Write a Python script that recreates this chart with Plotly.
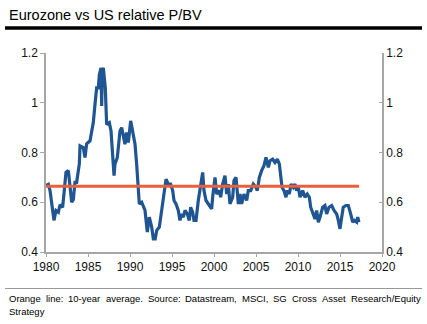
import plotly.graph_objects as go

# Eurozone vs US relative P/BV
years = [
    1980.0, 1980.28, 1980.48, 1980.67, 1980.95, 1981.19, 1981.47, 1981.67, 1981.98, 1982.14,
    1982.38, 1982.66, 1982.86, 1983.06, 1983.25, 1983.45, 1983.65, 1983.97, 1984.05, 1984.44,
    1984.64, 1984.84, 1985.24, 1985.44, 1985.63, 1985.83, 1986.03, 1986.23, 1986.35, 1986.55,
    1986.63, 1986.7, 1986.83, 1986.94, 1987.06, 1987.22, 1987.54, 1987.74, 1987.94, 1988.1,
    1988.21, 1988.49, 1988.81, 1989.01, 1989.21, 1989.4, 1989.6, 1989.8, 1990.08, 1990.32,
    1990.6, 1990.79, 1990.99, 1991.11, 1991.39, 1991.79, 1992.06, 1992.3, 1992.58, 1992.78,
    1993.0, 1993.18, 1993.49, 1993.77, 1994.05, 1994.29, 1994.56, 1994.84, 1995.08, 1995.24,
    1995.48, 1995.75, 1995.95, 1996.15, 1996.35, 1996.55, 1996.82, 1997.06, 1997.22, 1997.46,
    1997.62, 1997.86, 1998.13, 1998.41, 1998.65, 1998.81, 1999.05, 1999.33, 1999.72, 1999.84,
    2000.12, 2000.32, 2000.63, 2000.79, 2001.03, 2001.31, 2001.51, 2001.71, 2001.9, 2002.22,
    2002.38, 2002.62, 2002.78, 2002.9, 2003.1, 2003.29, 2003.57, 2003.89, 2004.08, 2004.37,
    2004.68, 2005.0, 2005.16, 2005.4, 2005.67, 2005.95, 2006.19, 2006.47, 2006.67, 2006.98,
    2007.26, 2007.54, 2007.78, 2007.94, 2008.1, 2008.33, 2008.57, 2008.73, 2008.97, 2009.17,
    2009.44, 2009.64, 2009.84, 2010.04, 2010.24, 2010.56, 2010.83, 2011.11, 2011.35, 2011.51,
    2011.75, 2012.02, 2012.22, 2012.42, 2012.62, 2012.94, 2013.21, 2013.41, 2013.69, 2014.01,
    2014.29, 2014.6, 2014.8, 2015.0, 2015.2, 2015.39, 2015.71, 2015.99, 2016.27, 2016.51,
    2016.71, 2016.99, 2017.11, 2017.26,
]
rel_pbv = [
    0.667, 0.672, 0.647, 0.600, 0.527, 0.567, 0.560, 0.590, 0.580, 0.635,
    0.720, 0.727, 0.660, 0.600, 0.610, 0.680, 0.680, 0.755, 0.827, 0.820,
    0.780, 0.835, 0.847, 0.887, 0.920, 0.993, 1.060, 1.060, 1.113, 1.140,
    0.987, 1.130, 1.140, 1.100, 1.060, 0.913, 0.920, 0.887, 0.807, 0.707,
    0.753, 0.780, 0.887, 0.900, 0.867, 0.833, 0.880, 0.840, 0.927, 0.887,
    0.833, 0.753, 0.660, 0.593, 0.600, 0.567, 0.480, 0.540, 0.500, 0.453,
    0.453, 0.487, 0.500, 0.567, 0.647, 0.693, 0.673, 0.673, 0.647, 0.607,
    0.593, 0.567, 0.527, 0.553, 0.540, 0.567, 0.553, 0.527, 0.580, 0.560,
    0.527, 0.527, 0.607, 0.660, 0.720, 0.647, 0.607, 0.593, 0.573, 0.620,
    0.700, 0.633, 0.647, 0.620, 0.673, 0.707, 0.633, 0.673, 0.593, 0.620,
    0.687, 0.700, 0.633, 0.593, 0.633, 0.593, 0.633, 0.607, 0.647, 0.647,
    0.673, 0.660, 0.647, 0.700, 0.727, 0.747, 0.780, 0.740, 0.767, 0.773,
    0.760, 0.773, 0.753, 0.687, 0.660, 0.647, 0.620, 0.647, 0.633, 0.673,
    0.660, 0.673, 0.647, 0.660, 0.620, 0.647, 0.620, 0.633, 0.620, 0.580,
    0.553, 0.533, 0.567, 0.520, 0.540, 0.580, 0.587, 0.553, 0.580, 0.587,
    0.567, 0.553, 0.527, 0.493, 0.540, 0.580, 0.587, 0.587, 0.553, 0.520,
    0.527, 0.520, 0.540, 0.520,
]
avg_years = [1980.0, 2017.26]
avg_values = [0.664, 0.664]

x_ticks = [1980, 1985, 1990, 1995, 2000, 2005, 2010, 2015, 2020]
y_ticks = [0.4, 0.6, 0.8, 1.0, 1.2]
y_tick_labels = ["0.4", "0.6", "0.8", "1", "1.2"]

title = "Eurozone vs US relative P/BV"
footnote_words = ["Orange", "line:", "10-year", "average.", "Source:", "Datastream,",
                  "MSCI,", "SG", "Cross", "Asset", "Research/Equity"]
footnote_word_px = [8, 44.8, 67.2, 104.5, 146.6, 184.3, 241, 272.3, 291, 321, 349.7]
footnote_line2 = "Strategy"

W, H = 427, 324
ML, MR, MT, MB = 46, 45, 53, 72
PW, PH = W - ML - MR, H - MT - MB


def px_x(px):
    return (px - ML) / PW


def px_y(py):
    return (H - MB - py) / PH


FONT = "Liberation Sans, Arial, sans-serif"
AXIS_GREY = "#a6a6a6"

fig = go.Figure()
fig.add_trace(go.Scatter(x=years, y=rel_pbv, mode="lines",
                         line=dict(color="#1f5592", width=3.2), showlegend=False))
fig.add_trace(go.Scatter(x=avg_years, y=avg_values, mode="lines", yaxis="y2",
                         line=dict(color="#e8603c", width=3), showlegend=False))

axis_font = dict(family=FONT, size=12, color="#111111")
fig.update_layout(
    width=W, height=H,
    margin=dict(l=ML, r=MR, t=MT, b=MB),
    paper_bgcolor="white", plot_bgcolor="white",
    xaxis=dict(range=[1980, 2020], tickvals=x_ticks, ticktext=[str(t) for t in x_ticks],
               showgrid=False, zeroline=False, showline=True, linecolor=AXIS_GREY, linewidth=1.5,
               ticks="outside", ticklen=3, tickcolor=AXIS_GREY, tickfont=axis_font),
    yaxis=dict(range=[0.4, 1.2], tickvals=y_ticks, ticktext=y_tick_labels,
               showgrid=False, zeroline=False, showline=True, linecolor=AXIS_GREY, linewidth=1.5,
               ticks="outside", ticklen=4, tickcolor=AXIS_GREY, tickfont=axis_font),
    yaxis2=dict(range=[0.4, 1.2], tickvals=y_ticks, ticktext=y_tick_labels, overlaying="y",
                side="right", showgrid=False, zeroline=False, showline=True,
                linecolor=AXIS_GREY, linewidth=1.5, ticks="inside", ticklen=3,
                tickcolor=AXIS_GREY, tickfont=axis_font),
    shapes=[
        dict(type="line", xref="paper", yref="paper", x0=px_x(5), x1=px_x(422),
             y0=px_y(28), y1=px_y(28), line=dict(color="black", width=3.5)),
        dict(type="line", xref="paper", yref="paper", x0=px_x(5), x1=px_x(422),
             y0=px_y(288.5), y1=px_y(288.5), line=dict(color="#999999", width=1)),
    ],
)

annotations = [dict(text=title, xref="paper", yref="paper", x=px_x(7), y=px_y(15),
                    xanchor="left", yanchor="middle", showarrow=False,
                    font=dict(family=FONT, size=14.5, color="black"))]
foot_font = dict(family=FONT, size=9.5, color="#000000")
for w, p in zip(footnote_words, footnote_word_px):
    annotations.append(dict(text=w, xref="paper", yref="paper", x=px_x(p), y=px_y(298.5),
                            xanchor="left", yanchor="middle", showarrow=False,
                            font=foot_font, xshift=-1))
annotations.append(dict(text=footnote_line2, xref="paper", yref="paper", x=px_x(8), y=px_y(311),
                        xanchor="left", yanchor="middle", showarrow=False,
                        font=foot_font, xshift=-1))
fig.update_layout(annotations=annotations)

fig.write_html("out.html")
